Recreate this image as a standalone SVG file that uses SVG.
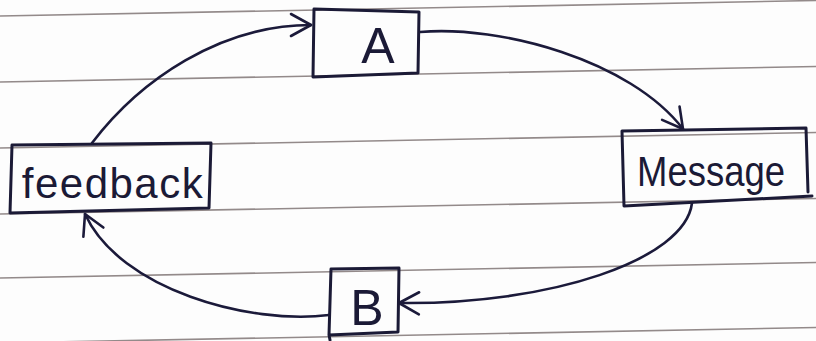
<svg xmlns="http://www.w3.org/2000/svg" width="816" height="341" viewBox="0 0 816 341">
  <style>
    .rule { stroke: #938a8a; stroke-width: 1.6; fill: none; }
    .box { stroke: #1b1a36; stroke-width: 3; fill: none; stroke-linejoin: round; stroke-linecap: round; }
    .edge { stroke: #1b1a3a; stroke-width: 2.6; fill: none; stroke-linecap: round; }
    .label { font-family: "Liberation Sans", "DejaVu Sans", sans-serif; fill: #1b1a36; text-anchor: middle; }
  </style>
  <defs>
    <marker id="arrow" viewBox="-24 -14 27 28" refX="0" refY="0" markerWidth="27" markerHeight="28" markerUnits="userSpaceOnUse" orient="auto">
      <path d="M-20,-11 L0,0 L-20,11" fill="none" stroke="#1b1a3a" stroke-width="2.6" stroke-linecap="round" stroke-linejoin="round"/>
    </marker>
  </defs>
  <rect x="0" y="0" width="816" height="341" fill="#fdfdfd"/>
  <g id="ruled-lines">
    <line class="rule" x1="0" y1="16" x2="816" y2="0.5"/>
    <line class="rule" x1="0" y1="82" x2="816" y2="66.5"/>
    <line class="rule" x1="0" y1="148" x2="816" y2="132.5"/>
    <line class="rule" x1="0" y1="214" x2="816" y2="198.5"/>
    <line class="rule" x1="0" y1="278" x2="816" y2="262.5"/>
    <line class="rule" x1="0" y1="343" x2="816" y2="327.5"/>
  </g>
  <g id="connectors">
    <path class="edge" d="M92,143 C140,80 220,25 311,25" marker-end="url(#arrow)"/>
    <path class="edge" d="M420,32 C500,25 630,60 683,129" marker-end="url(#arrow)"/>
    <path class="edge" d="M692,203 C685,260 550,305 399,303" marker-end="url(#arrow)"/>
    <path class="edge" d="M329,315 C250,325 120,290 85,214" marker-end="url(#arrow)"/>
  </g>
  <g id="node-A">
    <path class="box" d="M314,9 L419,12 L418,73 L313,77 Z"/>
    <text class="label" x="378" y="63" font-size="50">A</text>
  </g>
  <g id="node-message">
    <path class="box" d="M622,131 L806,128 L808,192 M812,196 L624,206 L622,131"/>
    <text class="label" x="711" y="186" font-size="42" textLength="148" lengthAdjust="spacingAndGlyphs">Message</text>
  </g>
  <g id="node-feedback">
    <path class="box" d="M12,145 L211,143 L209,208 L10,213 Z"/>
    <text class="label" x="113" y="198" font-size="42" letter-spacing="1.5">feedback</text>
  </g>
  <g id="node-B">
    <path class="box" d="M331,269 L399,268 L398,332 L329,335 Z M329,335 L330,340"/>
    <text class="label" x="367" y="325" font-size="50">B</text>
  </g>
</svg>
